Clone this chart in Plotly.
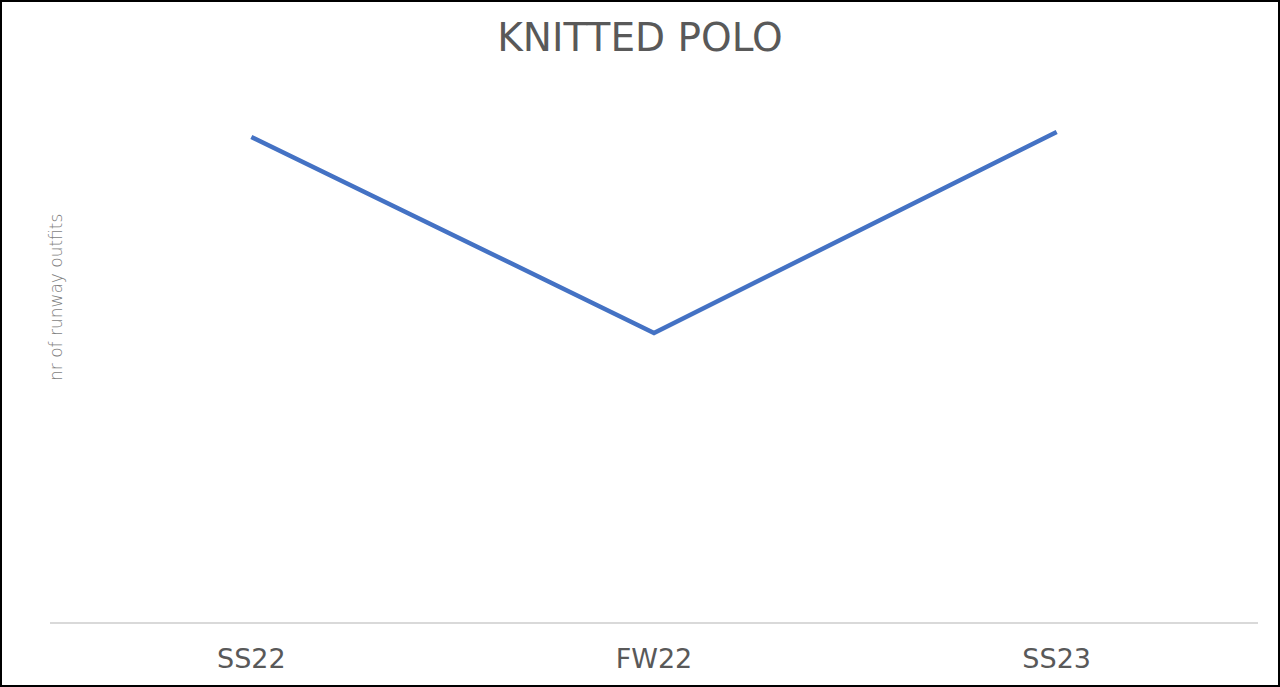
import plotly.graph_objects as go

categories = ["SS22", "FW22", "SS23"]
values = [99, 59, 100]
title_text = "KNITTED POLO"
y_title = "nr of runway outfits"

W, H = 1280, 687
ml, mr, mt, mb = 50, 22, 70, 65
pw = W - ml - mr
ph = H - mt - mb

fig = go.Figure()
fig.add_trace(go.Scatter(
    x=categories, y=values, mode="lines",
    line=dict(color="#4472C4", width=4.5),
    hoverinfo="skip", showlegend=False,
))

def px_x(p):
    return (p - ml) / pw

def px_y(p):
    return (H - mb - p) / ph

fig.update_layout(
    width=W, height=H,
    margin=dict(l=ml, r=mr, t=mt, b=mb),
    paper_bgcolor="white", plot_bgcolor="white",
    title=dict(text=title_text, x=0.5, xanchor="center", y=1 - 37 / H, yanchor="middle",
               font=dict(family="DejaVu Sans", size=39, color="#595959")),
    xaxis=dict(showgrid=False, zeroline=False, showline=True, linecolor="#D9D9D9", linewidth=1.5,
               tickfont=dict(family="DejaVu Sans", size=27, color="#595959"), ticks="", ticklen=0,
               ticklabelstandoff=12, range=[-0.5, 2.5]),
    yaxis=dict(range=[0, 100 * ph / 490], showgrid=False, zeroline=False, showticklabels=False,
               showline=False),
    annotations=[dict(text=y_title, textangle=-90, x=px_x(44), y=px_y(298), xref="paper", yref="paper",
                      showarrow=False, font=dict(family="DejaVu Sans", size=17, color="#7F7F7F", weight=200))],
    shapes=[dict(type="rect", xref="paper", yref="paper",
                 x0=px_x(1), x1=px_x(W - 1), y0=px_y(H - 1), y1=px_y(1),
                 line=dict(color="black", width=2), fillcolor="rgba(0,0,0,0)", layer="above")],
)
fig.write_html("out.html", config={"displayModeBar": False},
               post_script="document.body.style.margin='0';document.body.style.padding='0';")
